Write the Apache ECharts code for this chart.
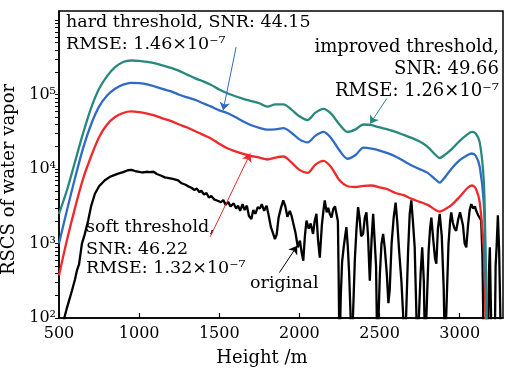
<!DOCTYPE html>
<html>
<head>
<meta charset="utf-8">
<title>RSCS of water vapor</title>
<script src="https://cdn.jsdelivr.net/npm/echarts@6.0.0/dist/echarts.min.js"></script>
<style>
  html, body { margin: 0; padding: 0; background: #fff; }
  #chart { width: 507px; height: 368px; }
</style>
</head>
<body>
<div id="chart"></div>
<script>
// Heights (m) at which the denoised profiles are sampled
const heights = [500, 550, 600, 650, 700, 750, 800, 850, 900, 950,
  1000, 1050, 1100, 1150, 1200, 1250, 1300, 1350, 1400, 1450,
  1500, 1550, 1600, 1650, 1700, 1750, 1800, 1850, 1900, 1950,
  2000, 2050, 2100, 2150, 2200, 2250, 2300, 2350, 2400, 2450,
  2500, 2550, 2600, 2650, 2700, 2750, 2800, 2850, 2875, 2900,
  2950, 3000, 3050, 3075, 3100, 3125, 3150, 3160, 3170];

// log10 of RSCS for each denoising method
const improvedLog = [3.40, 3.72, 4.10, 4.48, 4.82, 5.08, 5.25, 5.37, 5.44, 5.46,
  5.455, 5.44, 5.42, 5.39, 5.36, 5.32, 5.27, 5.22, 5.18, 5.13,
  5.07, 5.02, 4.98, 4.945, 4.915, 4.885, 4.84, 4.87, 4.87, 4.80,
  4.71, 4.66, 4.76, 4.81, 4.74, 4.60, 4.50, 4.535, 4.60, 4.59,
  4.56, 4.535, 4.50, 4.46, 4.42, 4.37, 4.30, 4.19, 4.15, 4.18,
  4.27, 4.38, 4.47, 4.50, 4.48, 4.36, 3.85, 3.0, 1.5];

const hardLog = [3.00, 3.45, 3.88, 4.28, 4.60, 4.84, 4.99, 5.08, 5.135, 5.16,
  5.155, 5.14, 5.11, 5.075, 5.045, 5.00, 4.965, 4.93, 4.885, 4.84,
  4.79, 4.755, 4.70, 4.64, 4.59, 4.555, 4.53, 4.535, 4.55, 4.49,
  4.40, 4.36, 4.45, 4.50, 4.41, 4.25, 4.14, 4.19, 4.29, 4.275,
  4.25, 4.215, 4.17, 4.11, 4.05, 4.00, 3.95, 3.86, 3.82, 3.87,
  4.01, 4.12, 4.19, 4.21, 4.18, 4.03, 3.55, 2.8, 1.5];

const softLog = [2.57, 3.05, 3.48, 3.87, 4.17, 4.43, 4.60, 4.70, 4.755, 4.775,
  4.765, 4.745, 4.72, 4.68, 4.645, 4.60, 4.56, 4.51, 4.46, 4.41,
  4.34, 4.28, 4.24, 4.205, 4.175, 4.155, 4.13, 4.155, 4.17, 4.09,
  3.99, 3.95, 4.06, 4.11, 4.02, 3.85, 3.77, 3.76, 3.775, 3.78,
  3.755, 3.73, 3.68, 3.65, 3.60, 3.56, 3.52, 3.45, 3.43, 3.45,
  3.52, 3.63, 3.75, 3.78, 3.74, 3.55, 2.90, 2.1, 1.5];

// Raw (noisy) profile: [height m, log10 RSCS]; values under 2 fall below the axis
const originalLog = [
  [520, 1.6], [533, 2.0], [550, 2.14], [565, 2.25], [581, 2.37], [600, 2.52], [612, 2.64], [625, 2.72],
  [643, 3.0], [660, 3.12], [682, 3.31], [700, 3.50], [724, 3.67], [750, 3.77], [786, 3.85], [820, 3.90],
  [869, 3.94], [900, 3.96], [930, 3.985], [952, 3.99], [975, 3.975], [1000, 3.965], [1020, 3.955],
  [1045, 3.965], [1065, 3.96], [1077, 3.98], [1090, 3.965], [1110, 3.935], [1135, 3.915], [1160, 3.89],
  [1185, 3.88], [1210, 3.87], [1243, 3.85], [1265, 3.81], [1290, 3.79], [1310, 3.765], [1326, 3.75],
  [1345, 3.72], [1360, 3.74], [1375, 3.69], [1388, 3.71], [1405, 3.66], [1420, 3.68], [1435, 3.62],
  [1450, 3.64], [1470, 3.59], [1490, 3.575], [1510, 3.555], [1525, 3.585], [1540, 3.52], [1555, 3.56],
  [1570, 3.50], [1590, 3.54], [1605, 3.47], [1617, 3.51], [1630, 3.44], [1645, 3.53], [1658, 3.45],
  [1672, 3.51], [1685, 3.37], [1700, 3.33], [1712, 3.45], [1725, 3.40], [1740, 3.49], [1753, 3.47],
  [1765, 3.53], [1780, 3.44], [1795, 3.51], [1808, 3.38], [1822, 3.22], [1835, 3.14], [1847, 3.06],
  [1858, 3.12], [1870, 3.35], [1885, 3.48], [1899, 3.58], [1912, 3.50], [1925, 3.36], [1940, 3.44],
  [1950, 3.38], [1961, 3.40], [1975, 3.15], [1990, 2.95], [2003, 3.04], [2014, 2.88], [2024, 2.77],
  [2034, 3.10], [2044, 3.31], [2058, 3.20], [2070, 3.27], [2085, 3.13], [2095, 3.30], [2106, 3.40],
  [2116, 3.05], [2127, 2.81], [2140, 3.25], [2150, 3.45], [2158, 3.58], [2170, 3.42], [2180, 3.48],
  [2189, 3.40], [2200, 3.35], [2212, 3.47], [2222, 3.50], [2231, 3.49], [2240, 3.30], [2245, 2.5],
  [2250, 1.5], [2258, 2.3], [2266, 2.75], [2276, 2.95], [2285, 3.10], [2293, 3.22], [2302, 2.95],
  [2310, 2.6], [2318, 2.1], [2326, 1.5], [2336, 1.5], [2346, 2.8], [2356, 3.2], [2366, 3.49],
  [2375, 3.35], [2385, 3.1], [2397, 3.13], [2408, 3.35], [2418, 3.42], [2428, 3.1], [2439, 2.50],
  [2450, 3.05], [2460, 3.40], [2470, 3.38], [2478, 2.7], [2486, 1.5], [2494, 1.5], [2502, 2.6],
  [2512, 3.0], [2522, 3.13], [2532, 2.95], [2545, 2.6], [2555, 2.2], [2563, 2.37], [2575, 3.0],
  [2588, 3.35], [2600, 3.55], [2610, 3.3], [2622, 2.9], [2636, 2.50], [2648, 2.0], [2658, 1.5],
  [2668, 1.5], [2678, 2.9], [2688, 3.4], [2698, 3.58], [2708, 3.3], [2719, 2.95], [2728, 2.2],
  [2736, 1.5], [2746, 1.5], [2756, 2.6], [2766, 2.95], [2776, 2.5], [2784, 1.5], [2796, 1.5],
  [2806, 2.9], [2815, 3.2], [2823, 3.35], [2835, 3.05], [2846, 2.8], [2854, 2.73], [2864, 3.2],
  [2875, 3.40], [2888, 3.1], [2900, 2.4], [2908, 1.5], [2920, 1.5], [2930, 3.0], [2940, 3.3],
  [2947, 3.42], [2957, 3.28], [2968, 3.2], [2978, 3.17], [2990, 3.32], [3002, 3.42], [3010, 3.44],
  [3020, 3.25], [3031, 3.0], [3041, 2.95], [3052, 3.25], [3062, 3.45], [3072, 3.53], [3085, 3.47],
  [3095, 3.50], [3103, 3.44], [3115, 3.38], [3125, 3.40], [3134, 3.31], [3142, 2.8], [3150, 1.5],
  [3176, 1.5], [3182, 2.6], [3188, 2.95], [3194, 2.2], [3200, 1.5], [3218, 1.5], [3224, 2.7],
  [3230, 2.95], [3238, 3.38], [3246, 2.9], [3252, 2.2], [3258, 1.5], [3270, 1.5]
];

// Decade exponents that carry a label on the vertical axis
const decadeLabels = [2, 3, 4, 5];

const FONT = '"DejaVu Serif", "Liberation Serif", serif';
const COLORS = { improved: '#27897d', hard: '#2f6bc6', soft: '#f0282a', original: '#000000' };
const SUP = { 2: '\u00b2', 3: '\u00b3', 4: '\u2074', 5: '\u2075' };

// Tick positions: every decade plus 2..9 within each decade
const logTicks = [];
for (let d = 2; d <= 5; d++) {
  for (let k = 1; k <= 9; k++) logTicks.push(d + Math.log10(k));
}
logTicks.push(6);

const pair = (vals) => heights.map((h, i) => [h, vals[i]]);

function arrow(from, to, color) {
  return {
    silent: true,
    symbol: ['none', 'arrow'],
    symbolSize: 8,
    label: { show: false },
    lineStyle: { color: color, width: 1, type: 'solid' },
    itemStyle: { color: color },
    emphasis: { disabled: true },
    data: [[{ coord: from }, { coord: to }]]
  };
}

function note(x, y, text, align, size) {
  return {
    type: 'text', x: x, y: y, silent: true,
    style: {
      text: text, fill: '#000', font: (size || 17.5) + 'px ' + FONT,
      align: align || 'left', verticalAlign: 'middle'
    }
  };
}

const chart = echarts.init(document.getElementById('chart'), null, { renderer: 'canvas' });

chart.setOption({
  animation: false,
  backgroundColor: '#fff',
  grid: {
    left: 59, right: 4, top: 11, bottom: 50,
    outerBoundsMode: 'none',
    show: true, borderColor: '#000', borderWidth: 1.5
  },
  xAxis: {
    type: 'value', min: 500, max: 3270, interval: 500,
    axisLine: { lineStyle: { color: '#000', width: 1.5 } },
    axisTick: { inside: true, length: 5, lineStyle: { color: '#000', width: 1.2 } },
    axisLabel: {
      color: '#000', fontFamily: FONT, fontSize: 16, margin: 8, showMaxLabel: false,
      formatter: (v) => String(v)
    },
    splitLine: { show: false },
    name: 'Height /m', nameLocation: 'middle', nameGap: 31,
    nameTextStyle: { color: '#000', fontFamily: FONT, fontSize: 18, padding: [0, 38, 0, 0] }
  },
  yAxis: {
    type: 'value', min: 2, max: 6.125, interval: 1,
    axisLine: { lineStyle: { color: '#000', width: 1.5 } },
    axisTick: { inside: false, length: 4, customValues: logTicks, lineStyle: { color: '#000', width: 1 } },
    axisLabel: {
      color: '#000', fontFamily: FONT, fontSize: 16, margin: 3,
      formatter: (v) => decadeLabels.indexOf(v) >= 0 ? '10' + SUP[v] : ''
    },
    splitLine: { show: false },
    name: 'RSCS of water vapor', nameLocation: 'middle', nameGap: 30,
    nameTextStyle: { color: '#000', fontFamily: FONT, fontSize: 18, padding: [0, 30, 0, 0] }
  },
  graphic: [
    note(66, 22, 'hard threshold, SNR: 44.15'),
    note(66, 44, 'RMSE: 1.46\u00d710\u207b\u2077'),
    note(499, 47, 'improved threshold,', 'right', 18),
    note(499, 69, 'SNR: 49.66', 'right', 18),
    note(499, 91, 'RMSE: 1.26\u00d710\u207b\u2077', 'right', 18),
    note(86, 227, 'soft threshold,'),
    note(86, 249, 'SNR: 46.22'),
    note(86, 268, 'RMSE: 1.32\u00d710\u207b\u2077'),
    note(250, 283, 'original')
  ],
  series: [{
    name: 'original', type: 'line', data: originalLog,
    showSymbol: false, symbol: 'none', clip: true,
    lineStyle: { color: COLORS.original, width: 2.3 },
    markLine: arrow([1875, 2.61], [1986, 2.97], COLORS.original)
  }, {
    name: 'soft threshold', type: 'line', data: pair(softLog),
    showSymbol: false, symbol: 'none', smooth: 0.3, clip: true,
    lineStyle: { color: COLORS.soft, width: 2.3 },
    markLine: arrow([1443, 3.09], [1693, 4.21], COLORS.soft)
  }, {
    name: 'hard threshold', type: 'line', data: pair(hardLog),
    showSymbol: false, symbol: 'none', smooth: 0.3, clip: true,
    lineStyle: { color: COLORS.hard, width: 2.3 },
    markLine: arrow([1605, 5.64], [1524, 4.79], COLORS.hard)
  }, {
    name: 'improved threshold', type: 'line', data: pair(improvedLog),
    showSymbol: false, symbol: 'none', smooth: 0.3, clip: true,
    lineStyle: { color: COLORS.improved, width: 2.3 },
    markLine: arrow([2545, 4.95], [2441, 4.61], COLORS.improved)
  }]
});
</script>
</body>
</html>
